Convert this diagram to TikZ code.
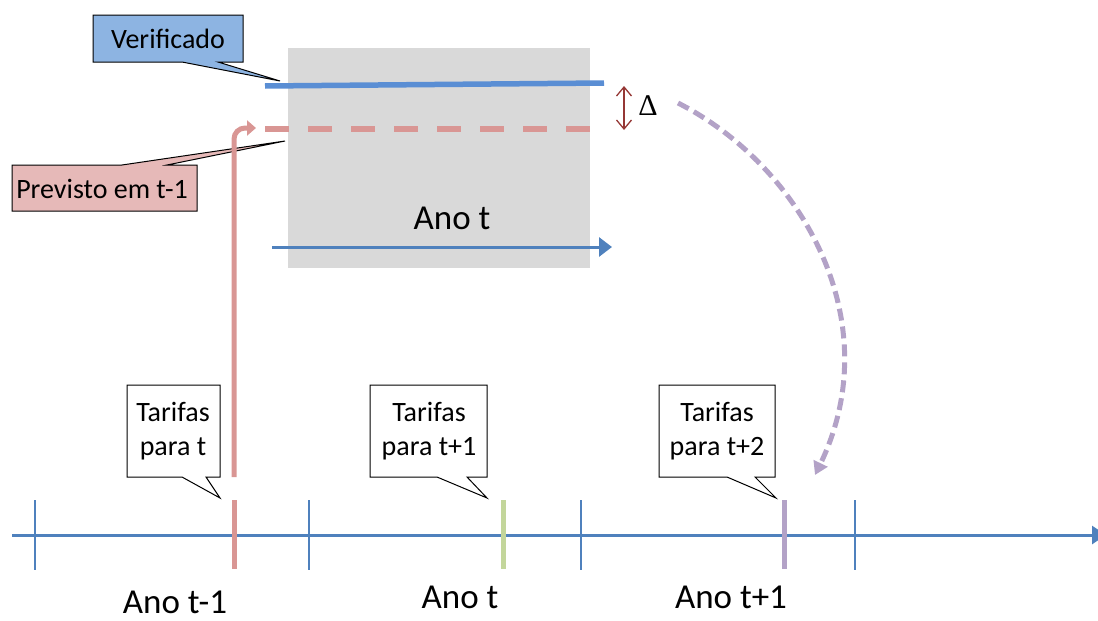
\documentclass[tikz,border=0pt]{standalone}
\usepackage{fontspec}
\setmainfont{Carlito}
\newfontfamily\deltafont{Liberation Serif}
\usetikzlibrary{arrows.meta}

\definecolor{axisblue}{HTML}{4F81BD}
\definecolor{realblue}{HTML}{5A8ED4}
\definecolor{fcpink}{HTML}{D99694}
\definecolor{calloutblue}{HTML}{8DB4E2}
\definecolor{calloutpink}{HTML}{E6B9B8}
\definecolor{tickgreen}{HTML}{C3D69B}
\definecolor{tickpurple}{HTML}{B3A2C7}
\definecolor{deltared}{HTML}{953735}
\definecolor{yeargray}{HTML}{D9D9D9}

\tikzset{
  calloutshape/.style={draw=black, line width=1pt, line join=miter},
  callouttext/.style={font=\fontsize{28}{34}\selectfont, align=center, inner sep=0pt},
  bigtext/.style={font=\fontsize{35}{40}\selectfont, inner sep=0pt},
  thintick/.style={draw=axisblue, line width=1.5pt},
  thicktick/.style={line width=5pt},
}

\begin{document}
\begin{tikzpicture}[x=1pt,y=-1pt]
\useasboundingbox (0,0) rectangle (1098,621);
\clip (0,0) rectangle (1098,621);

% ---- year t, zoomed in ----
\fill[yeargray] (288,48) rectangle (590,268);
\node[bigtext] (anot) at (452,218) {Ano t};
\coordinate (yrS) at (272,247);
\coordinate (yrE) at (612,247);
\draw[axisblue, line width=3pt, -{Triangle[length=13pt,width=19pt]}] (yrS) -- (yrE);

% ---- callout: observed value ----
\filldraw[calloutshape, fill=calloutblue]
  (93,15) -- (243,15) -- (243,62) -- (218,62) -- (280,81) -- (182,62) -- (93,62) -- cycle;
\node[callouttext] (verif) at (168,39) {Verificado};

% ---- callout: forecast value ----
\filldraw[calloutshape, fill=calloutpink]
  (12,165) -- (122,165) -- (285,141) -- (167,165) -- (197,165) -- (197,211) -- (12,211) -- cycle;
\node[callouttext] (prev) at (102,189) {Previsto em t-1};

% ---- observed and forecast levels ----
\coordinate (obsS) at (265,86);
\coordinate (obsE) at (604,83);
\draw[realblue, line width=5.5pt] (obsS) -- (obsE);

\coordinate (fcS) at (265,129);
\coordinate (fcE) at (590,129);
\draw[fcpink, line width=6pt, dash pattern=on 24pt off 19pt] (fcS) -- (fcE);

% difference between the two levels
\coordinate (dTop) at (624,86);
\coordinate (dBot) at (624,130);
\draw[deltared, line width=1.3pt, {Straight Barb[length=9pt,width=15pt]}-{Straight Barb[length=9pt,width=15pt]}] (dTop) -- (dBot);
\node[font=\deltafont\fontsize{30}{34}\selectfont, inner sep=0pt] (delta) at (648,106) {Δ};

% ---- time axis ----
\coordinate (axS) at (12,535);
\coordinate (axE) at (1106,535);
\draw[axisblue, line width=3pt, -{Triangle[length=14pt,width=18pt]}] (axS) -- (axE);

\foreach \x/\nm in {35/ta,309/tb,581/tc,855/td}{
  \coordinate (\nm1) at (\x,500);
  \coordinate (\nm2) at (\x,570);
  \draw[thintick] (\nm1) -- (\nm2);
}

\coordinate (pk1) at (234,500); \coordinate (pk2) at (234,569);
\coordinate (gr1) at (503,500); \coordinate (gr2) at (503,569);
\coordinate (pu1) at (784,500); \coordinate (pu2) at (784,569);
\draw[thicktick, fcpink] (pk1) -- (pk2);
\draw[thicktick, tickgreen] (gr1) -- (gr2);
\draw[thicktick, tickpurple] (pu1) -- (pu2);

% ---- tariff callouts ----
\filldraw[calloutshape, fill=white]
  (127,385) -- (220,385) -- (220,477) -- (206,477) -- (220,498) -- (182,477) -- (127,477) -- cycle;
\node[callouttext] (tar1) at (173,431) {Tarifas\\para t};

\filldraw[calloutshape, fill=white]
  (370,385) -- (487,385) -- (487,477) -- (467,477) -- (487,498) -- (437,477) -- (370,477) -- cycle;
\node[callouttext] (tar2) at (429,431) {Tarifas\\para t+1};

\filldraw[calloutshape, fill=white]
  (659,385) -- (775,385) -- (775,477) -- (755,477) -- (776,498) -- (727,477) -- (659,477) -- cycle;
\node[callouttext] (tar3) at (717,431) {Tarifas\\para t+2};

% ---- year labels ----
\node[bigtext, anchor=base] (y1) at (175,613) {Ano t-1};
\node[bigtext, anchor=base] (y2) at (460,608) {Ano t};
\node[bigtext, anchor=base] (y3) at (731,608) {Ano t+1};

% ---- forecast made at t-1 feeds year t ----
\coordinate (fcFrom) at (234,477);
\coordinate (fcBend) at (234,128);
\coordinate (fcTo) at (256,128);
\draw[fcpink, line width=5pt, rounded corners=11pt, -{Triangle[length=9pt,width=15pt]}] (fcFrom) -- (fcBend) -- (fcTo);

% ---- difference carried into tariffs for t+2 ----
\coordinate (dfFrom) at (678,103);
\coordinate (dfTo) at (815,475);
\draw[tickpurple, line width=5pt, dash pattern=on 12pt off 6pt, -{Triangle[length=13pt,width=15pt]}]
  (dfFrom) .. controls (800,165) and (890,320) .. (dfTo);
\end{tikzpicture}
\end{document}
